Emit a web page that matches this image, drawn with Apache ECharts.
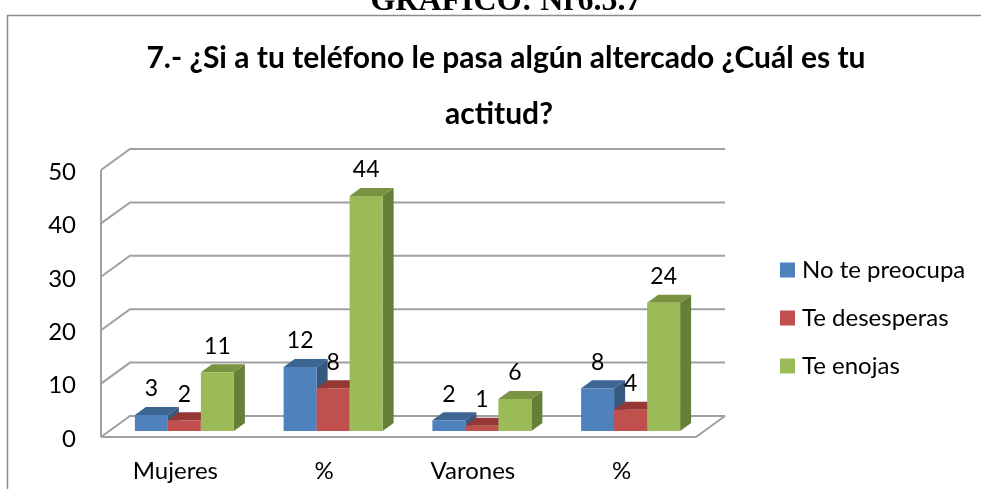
<!DOCTYPE html>
<html><head><meta charset="utf-8">
<style>html,body{margin:0;padding:0;background:#fff}#c{width:981px;height:489px}</style>
<script src="https://cdn.jsdelivr.net/npm/echarts@6/dist/echarts.min.js"></script>
</head><body><div id="c"></div>
<script>
const categories = ['Mujeres', '%', 'Varones', '%'];
const seriesNames = ['No te preocupa', 'Te desesperas', 'Te enojas'];
const noTePreocupa = [3, 12, 2, 8];
const teDesesperas = [2, 8, 1, 4];
const teEnojas = [11, 44, 6, 24];
const yTicks = [0, 10, 20, 30, 40, 50];

const faces = [
  { front: '#4F81BD', top: '#3D6594', side: '#35587F' },
  { front: '#C0504D', top: '#953735', side: '#7F2F2D' },
  { front: '#9BBB59', top: '#7A9342', side: '#667F38' }
];
const depthX = 29, depthY = 21;
const barDX = 11, barDY = 8, baseLift = 6, labelGap = 26;
const groupShift = 9, barW = 33;
const GREY = '#A0A0A0';

function barRender(seriesIdx) {
  return function (params, api) {
    const cat = api.value(0), val = api.value(1);
    const c = api.coord([cat, val]), o = api.coord([cat, 0]);
    const w = barW;
    const x = c[0] + groupShift + (seriesIdx - 1.5) * w;
    const yTop = c[1] - baseLift, yBase = o[1] - baseLift;
    const f = faces[seriesIdx];
    return {
      type: 'group',
      children: [
        { type: 'polygon', shape: { points: [[x + w, yTop], [x + w + barDX, yTop - barDY], [x + w + barDX, yBase - barDY], [x + w, yBase]] }, style: { fill: f.side } },
        { type: 'polygon', shape: { points: [[x, yTop], [x + barDX, yTop - barDY], [x + w + barDX, yTop - barDY], [x + w, yTop]] }, style: { fill: f.top } },
        { type: 'rect', shape: { x: x, y: yTop, width: w, height: yBase - yTop }, style: { fill: f.front } },
        { type: 'text', x: x + w / 2, y: yTop - labelGap, style: { text: String(val), fill: '#000', font: '23px Lato', align: 'center', verticalAlign: 'middle' } }
      ]
    };
  };
}
function wallRender(params, api) {
  const v = api.value(0);
  const left = api.coord([0, v]);
  const gx = params.coordSys.x;
  const gr = params.coordSys.x + params.coordSys.width;
  const y = left[1];
  const st = { stroke: GREY, lineWidth: 2, fill: 'none' };
  const kids = [
    { type: 'polyline', shape: { points: [[gx, y], [gx + depthX, y - depthY], [gr + depthX, y - depthY]] }, style: st }
  ];
  if (v === 0) {
    kids.push({ type: 'polyline', shape: { points: [[gx, y], [gr, y], [gr + depthX, y - depthY]] }, style: st });
    const t = api.coord([0, 50]);
    kids.push({ type: 'line', shape: { x1: gx, y1: y, x2: gx, y2: t[1] }, style: st });
  }
  return { type: 'group', children: kids };
}

const chart = echarts.init(document.getElementById('c'), null, { renderer: 'canvas' });
chart.setOption({
  animation: false,
  backgroundColor: '#fff',
  textStyle: { fontFamily: 'Lato' },
  title: [
    { text: 'GRÁFICO: Nr6.5.7', left: 501, top: -19, textAlign: 'center', textStyle: { fontFamily: 'Liberation Serif', fontWeight: 'bold', fontSize: 32, color: '#000' } },
    { text: '7.- ¿Si a tu teléfono le pasa algún altercado ¿Cuál es tu', left: 501, top: 38, textAlign: 'center', textStyle: { fontFamily: 'Lato', fontWeight: 'bold', fontSize: 30, color: '#000' } },
    { text: 'actitud?', left: 494, top: 94, textAlign: 'center', textStyle: { fontFamily: 'Lato', fontWeight: 'bold', fontSize: 30, color: '#000' } }
  ],
  legend: {
    orient: 'vertical', left: 780, top: 258, itemWidth: 15, itemHeight: 15, itemGap: 24, padding: 0,
    icon: 'rect', data: seriesNames, selectedMode: false,
    textStyle: { fontFamily: 'Lato', fontSize: 24, lineHeight: 24, color: '#000', padding: [0, 0, 0, 2] }
  },
  grid: { left: 101, right: 285, top: 170, bottom: 52, containLabel: false },
  xAxis: {
    type: 'category', data: categories,
    axisLine: { show: false }, axisTick: { show: false },
    axisLabel: { color: '#000', fontSize: 24, margin: 22, fontFamily: 'Lato' }
  },
  yAxis: {
    type: 'value', min: 0, max: 50, interval: 10,
    axisLine: { show: false }, axisTick: { show: false }, splitLine: { show: false },
    axisLabel: { color: '#000', fontSize: 24, margin: 25, fontFamily: 'Lato', verticalAlign: 'top', lineHeight: 4 }
  },
  graphic: [
    { type: 'polyline', shape: { points: [[7.5, 489], [7.5, 15.5], [981, 15.5]] }, style: { stroke: '#8C8C8C', lineWidth: 1.5, fill: 'none' } }
  ],
  series: [
    { type: 'custom', silent: true, name: 'walls', encode: { y: 0 }, renderItem: wallRender, data: yTicks.map(v => [v]), clip: false, z: 1 },
    ...[noTePreocupa, teDesesperas, teEnojas].map((vals, i) => ({
      type: 'custom', name: seriesNames[i], renderItem: barRender(i), itemStyle: { color: faces[i].front },
      encode: { x: 0, y: 1 }, data: vals.map((v, c) => [c, v]), clip: false, z: 2 + i
    }))
  ]
});
</script></body></html>
